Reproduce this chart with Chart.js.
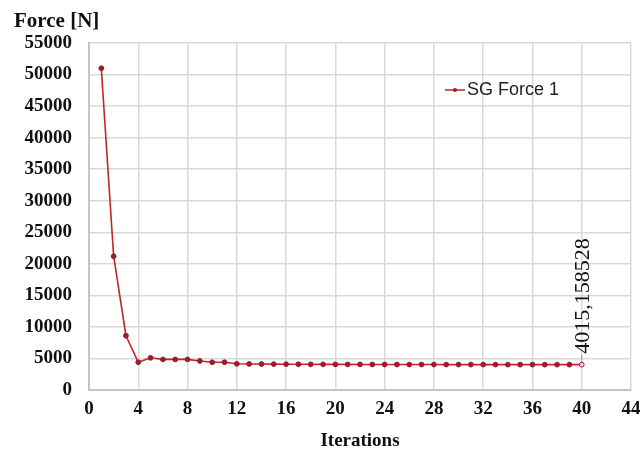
<!DOCTYPE html>
<html>
<head>
<meta charset="utf-8">
<script src="https://cdn.jsdelivr.net/npm/chart.js@4.4.0/dist/chart.umd.min.js"></script>
<style>
  html, body { margin: 0; padding: 0; background: #fff; }
  #wrap { width: 640px; height: 452px; }
</style>
</head>
<body>
<div id="wrap"><canvas id="grafico" width="640" height="452"></canvas></div>
<script>
const iteraciones = [1,2,3,4,5,6,7,8,9,10,11,12,13,14,15,16,17,18,19,20,
                     21,22,23,24,25,26,27,28,29,30,31,32,33,34,35,36,37,38,39,40];
const fuerza = [51000,21200,8600,4400,5100,4850,4850,4850,4600,4400,4400,4150,
                4130,4110,4100,4090,4080,4070,4065,4060,4055,4050,4045,4040,4038,4035,
                4033,4030,4028,4026,4025,4024,4022,4021,4020,4019,4018,4017,4016,4015.158528];
const ticksY = [0,5000,10000,15000,20000,25000,30000,35000,40000,45000,50000,55000];
const ticksX = [0,4,8,12,16,20,24,28,32,36,40,44];
const nombreSerie = 'SG Force 1';
const etiquetaFinal = '4015,158528';

const colorLinea = '#c0262f';
const colorPunto = '#9c1c2c';
const colorGrid = '#d9d9d9';

const puntos = iteraciones.map((x, i) => ({x: x, y: fuerza[i]}));

// textos extra: titulo del eje y, leyenda dentro del area, etiqueta vertical
const extras = {
  id: 'extras',
  afterDatasetsDraw(chart) {
    const c = chart.ctx;
    c.save();
    c.fillStyle = '#111';
    c.font = 'bold 21px "Liberation Serif", "DejaVu Serif", serif';
    c.textAlign = 'left';
    c.textBaseline = 'middle';
    c.fillText('Force [N]', 14, 22);

    // leyenda
    c.strokeStyle = colorLinea;
    c.lineWidth = 1.5;
    c.beginPath();
    c.moveTo(445, 90);
    c.lineTo(465, 90);
    c.stroke();
    c.fillStyle = colorPunto;
    c.beginPath();
    c.arc(455, 90, 2, 0, Math.PI * 2);
    c.fill();
    c.fillStyle = '#222';
    c.font = '18px "Liberation Sans", Arial, sans-serif';
    c.fillText(nombreSerie, 467, 90);

    // etiqueta del ultimo punto
    const meta = chart.getDatasetMeta(0);
    const p = meta.data[meta.data.length - 1];
    c.strokeStyle = '#999';
    c.lineWidth = 1;
    c.beginPath();
    c.moveTo(p.x, p.y - 3);
    c.lineTo(p.x, p.y - 10);
    c.stroke();
    c.translate(p.x + 1, p.y - 11);
    c.rotate(-Math.PI / 2);
    c.fillStyle = '#111';
    c.font = '22px "Liberation Serif", "DejaVu Serif", serif';
    c.textAlign = 'left';
    c.textBaseline = 'middle';
    c.fillText(etiquetaFinal, 0, 0);
    c.restore();
  }
};

const fuenteEje = {family: '"Liberation Serif", "DejaVu Serif", serif', size: 19, weight: 'bold'};

new Chart(document.getElementById('grafico'), {
  type: 'line',
  data: {
    datasets: [{
      label: nombreSerie,
      data: puntos,
      borderColor: colorLinea,
      borderWidth: 1.6,
      pointRadius: 2.4,
      pointBorderWidth: 1,
      pointBorderColor: colorPunto,
      pointBackgroundColor: ctx => ctx.dataIndex === fuerza.length - 1 ? '#f3d6d8' : colorPunto,
      tension: 0,
      fill: false
    }]
  },
  options: {
    responsive: false,
    animation: false,
    layout: {padding: {left: 0, right: 0, top: 43, bottom: 0}},
    plugins: {
      legend: {display: false},
      tooltip: {enabled: false}
    },
    scales: {
      x: {
        type: 'linear',
        min: 0,
        max: 44,
        afterBuildTicks: s => { s.ticks = ticksX.map(v => ({value: v})); },
        afterFit: s => { s.height = 62; s.paddingRight = 9; },
        ticks: {color: '#111', font: fuenteEje, padding: 8, maxRotation: 0, callback: v => String(v)},
        grid: {color: colorGrid, lineWidth: 1.5, drawTicks: false},
        border: {color: '#c4c4c4', width: 2},
        title: {display: true, text: 'Iterations', color: '#111', font: fuenteEje, padding: {top: 4, bottom: 0}}
      },
      y: {
        min: 0,
        max: 55000,
        afterBuildTicks: s => { s.ticks = ticksY.map(v => ({value: v})); },
        afterFit: s => { s.width = 89; },
        ticks: {color: '#111', font: fuenteEje, padding: 17, callback: v => String(v)},
        grid: {color: colorGrid, lineWidth: 1.5, drawTicks: false},
        border: {color: '#c4c4c4', width: 2}
      }
    }
  },
  plugins: [extras]
});
</script>
</body>
</html>
